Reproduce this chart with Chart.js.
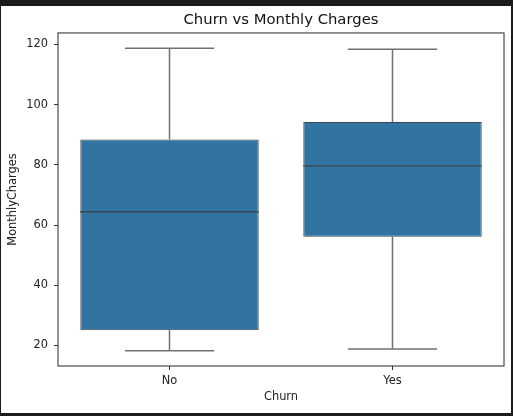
<!DOCTYPE html>
<html>
<head>
<meta charset="utf-8">
<script src="https://cdn.jsdelivr.net/npm/chart.js@4.4.1/dist/chart.umd.min.js"></script>
<style>
  html, body { margin: 0; padding: 0; background: #1c1c1c; }
  #frame { position: absolute; left: 1px; top: 6px; width: 510px; height: 407px; background: #fff; }
  canvas { display: block; }
</style>
</head>
<body>
<div id="frame"><canvas id="chart" width="510" height="407"></canvas></div>
<script>
// Churn vs Monthly Charges - box plot built from floating bars

const categories = ['No', 'Yes']
const whiskerLow = [18.25, 18.85]
const q1 = [25.1, 56.15]
const median = [64.43, 79.65]
const q3 = [88.4, 94.2]
const whiskerHigh = [118.75, 118.35]
const yTicks = [20, 40, 60, 80, 100, 120]

const boxColor = '#3274a1'
const edgeColor = '#3d4650'
const whiskerColor = '#707070'
const font = 'DejaVu Sans'

// whiskers, caps, medians and the axes frame, all placed through the scales
const boxExtras = {
    id: 'boxExtras',
    afterLayout(chart) {
        // centre the title over the plot area, like matplotlib does
        if (chart.titleBlock) {
            chart.titleBlock.left = chart.chartArea.left
            chart.titleBlock.right = chart.chartArea.right
        }
    },
    afterDatasetsDraw(chart) {
        const {ctx, chartArea, scales: {x, y}} = chart
        const bars = chart.getDatasetMeta(0).data
        ctx.save()
        categories.forEach((c, i) => {
            const cx = x.getPixelForValue(i)
            const half = bars[i].width / 2
            ctx.strokeStyle = whiskerColor
            ctx.lineWidth = 1.5
            ctx.beginPath()
            ctx.moveTo(cx, y.getPixelForValue(q3[i]))
            ctx.lineTo(cx, y.getPixelForValue(whiskerHigh[i]))
            ctx.moveTo(cx, y.getPixelForValue(q1[i]))
            ctx.lineTo(cx, y.getPixelForValue(whiskerLow[i]))
            ctx.moveTo(cx - half / 2, y.getPixelForValue(whiskerHigh[i]))
            ctx.lineTo(cx + half / 2, y.getPixelForValue(whiskerHigh[i]))
            ctx.moveTo(cx - half / 2, y.getPixelForValue(whiskerLow[i]))
            ctx.lineTo(cx + half / 2, y.getPixelForValue(whiskerLow[i]))
            ctx.stroke()

            ctx.strokeStyle = edgeColor
            ctx.lineWidth = 1.3
            ctx.beginPath()
            ctx.moveTo(cx - half, y.getPixelForValue(median[i]))
            ctx.lineTo(cx + half, y.getPixelForValue(median[i]))
            ctx.stroke()
        })
        ctx.strokeStyle = '#262626'
        ctx.lineWidth = 1
        ctx.strokeRect(chartArea.left, chartArea.top, chartArea.right - chartArea.left, chartArea.bottom - chartArea.top)
        ctx.restore()
    }
}

const ctx = document.getElementById('chart').getContext('2d')

const churnChart = new Chart(ctx, {
    type: 'bar',
    data: {
        labels: categories,
        datasets: [
            {
                label: 'MonthlyCharges',
                data: categories.map((c, i) => [q1[i], q3[i]]),
                backgroundColor: boxColor,
                borderColor: edgeColor,
                borderWidth: 1,
                borderSkipped: false,
                barPercentage: 0.8,
                categoryPercentage: 1.0
            }
        ]
    },
    options: {
        responsive: false,
        animation: false,
        devicePixelRatio: 1,
        layout: { padding: { left: 0, right: 7, top: 0, bottom: 0 } },
        plugins: {
            legend: { display: false },
            tooltip: { enabled: false },
            title: {
                display: true,
                text: 'Churn vs Monthly Charges',
                color: '#111',
                font: { family: font, size: 14.8, weight: 'normal' },
                padding: { top: 5, bottom: 4.2 }
            }
        },
        scales: {
            x: {
                offset: true,
                afterFit: s => { s.height = 47 },
                grid: { display: true, drawOnChartArea: false, offset: false, tickLength: 4, color: '#333', tickWidth: 1 },
                border: { display: false },
                ticks: { color: '#222', padding: 4, font: { family: font, size: 11.4 } },
                title: {
                    display: true,
                    text: 'Churn',
                    color: '#222',
                    font: { family: font, size: 11.4 },
                    padding: { top: 0, bottom: 9 }
                }
            },
            y: {
                min: 13.2,
                max: 123.8,
                afterFit: s => { s.width = 57 },
                afterBuildTicks: s => { s.ticks = yTicks.map(v => ({value: v})) },
                grid: { display: true, drawOnChartArea: false, tickLength: 4, color: '#333', tickWidth: 1 },
                border: { display: false },
                ticks: { color: '#222', padding: 6, font: { family: font, size: 11.4 } },
                title: {
                    display: true,
                    text: 'MonthlyCharges',
                    color: '#222',
                    font: { family: font, size: 11.4 },
                    padding: { top: 5.5, bottom: 0 }
                }
            }
        }
    },
    plugins: [boxExtras]
})
</script>
</body>
</html>
